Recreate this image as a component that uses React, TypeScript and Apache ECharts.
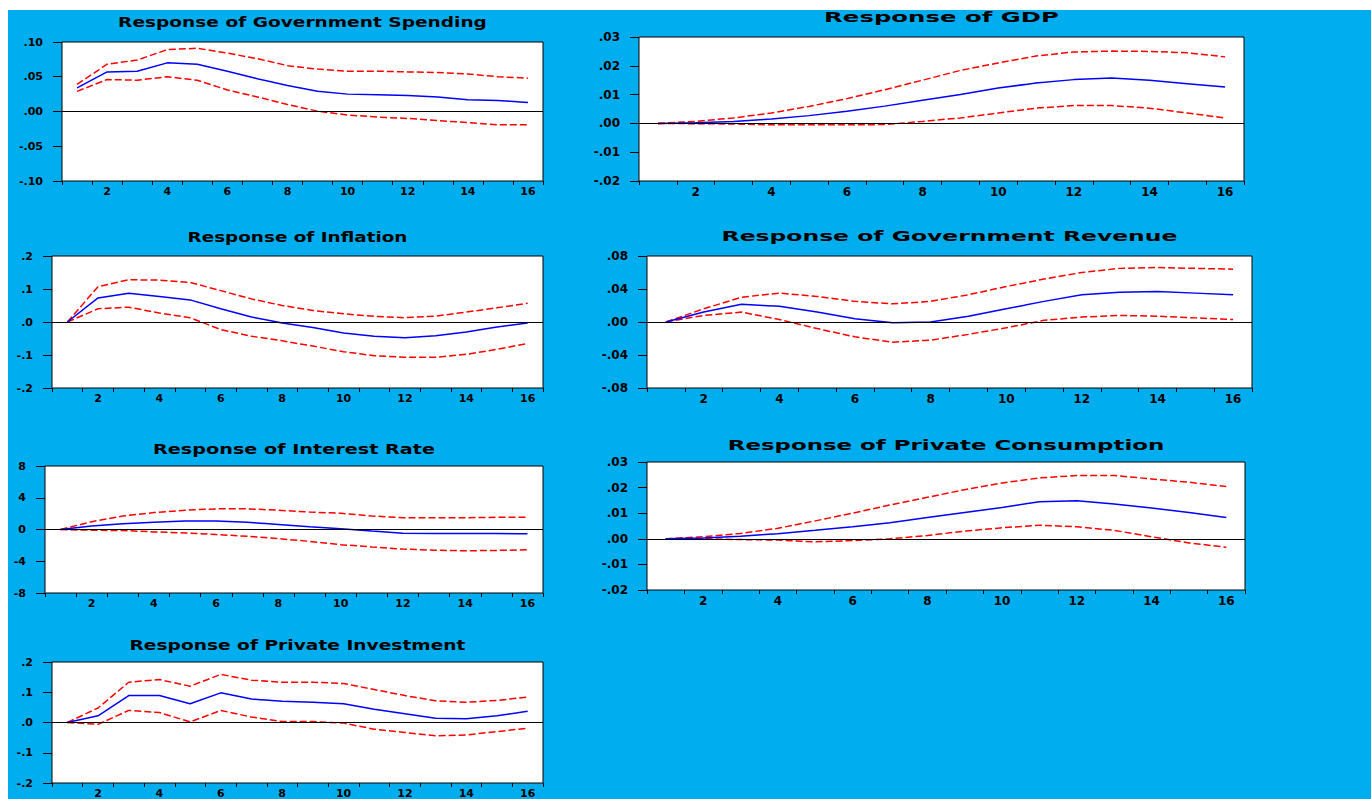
import React, { useEffect, useRef } from "react";
import * as echarts from "echarts";

// Impulse-response horizon (periods after the shock)
const periods = ["1", "2", "3", "4", "5", "6", "7", "8", "9", "10", "11", "12", "13", "14", "15", "16"];

// Response of Government Spending: point estimate and ±2 S.E. bands
const govSpendingResp = [0.034, 0.057, 0.058, 0.07, 0.068, 0.058, 0.047, 0.0375, 0.029, 0.025, 0.024, 0.023, 0.021, 0.017, 0.016, 0.013];
const govSpendingUpper = [0.039, 0.068, 0.074, 0.089, 0.091, 0.084, 0.076, 0.066, 0.061, 0.058, 0.058, 0.057, 0.056, 0.054, 0.05, 0.048];
const govSpendingLower = [0.029, 0.046, 0.045, 0.05, 0.045, 0.031, 0.021, 0.01, 0.0005, -0.005, -0.008, -0.01, -0.013, -0.016, -0.019, -0.019];

// Response of GDP
const gdpResp = [0, 0.0002, 0.0007, 0.0015, 0.0027, 0.0042, 0.006, 0.008, 0.01, 0.0123, 0.014, 0.0152, 0.0158, 0.015, 0.0138, 0.0126];
const gdpUpper = [0, 0.0007, 0.0019, 0.0036, 0.0059, 0.0086, 0.0117, 0.015, 0.0184, 0.021, 0.0234, 0.0248, 0.0251, 0.025, 0.0245, 0.0231];
const gdpLower = [0, -0.0001, -0.0002, -0.0005, -0.0005, -0.0005, -0.0004, 0.0007, 0.0019, 0.0036, 0.0053, 0.0062, 0.0062, 0.0053, 0.0036, 0.0019];

// Response of Inflation
const inflationResp = [0, 0.073, 0.087, 0.077, 0.067, 0.04, 0.015, -0.003, -0.017, -0.033, -0.043, -0.048, -0.042, -0.03, -0.015, -0.003];
const inflationUpper = [0, 0.107, 0.128, 0.127, 0.12, 0.095, 0.07, 0.05, 0.035, 0.025, 0.017, 0.013, 0.018, 0.03, 0.043, 0.057];
const inflationLower = [0, 0.04, 0.045, 0.027, 0.013, -0.023, -0.043, -0.057, -0.073, -0.09, -0.102, -0.107, -0.107, -0.098, -0.083, -0.065];

// Response of Government Revenue
const revenueResp = [0, 0.012, 0.0216, 0.019, 0.012, 0.004, -0.001, 0, 0.007, 0.016, 0.025, 0.033, 0.036, 0.037, 0.035, 0.033];
const revenueUpper = [0, 0.016, 0.03, 0.035, 0.031, 0.025, 0.022, 0.025, 0.033, 0.043, 0.052, 0.06, 0.065, 0.066, 0.065, 0.064];
const revenueLower = [0, 0.008, 0.012, 0.003, -0.008, -0.018, -0.0245, -0.022, -0.015, -0.007, 0.002, 0.006, 0.008, 0.007, 0.005, 0.003];

// Response of Interest Rate
const interestResp = [0, 0.43, 0.72, 0.9, 1.06, 1.06, 0.9, 0.64, 0.34, 0.09, -0.2, -0.47, -0.51, -0.51, -0.51, -0.55];
const interestUpper = [0, 0.98, 1.7, 2.13, 2.43, 2.6, 2.6, 2.43, 2.2, 2.04, 1.7, 1.49, 1.49, 1.49, 1.53, 1.53];
const interestLower = [0, -0.09, -0.13, -0.3, -0.43, -0.64, -0.85, -1.15, -1.49, -1.91, -2.2, -2.47, -2.6, -2.68, -2.64, -2.55];

// Response of Private Consumption
const consumptionResp = [0, 0.0003, 0.001, 0.002, 0.0033, 0.0047, 0.0063, 0.0083, 0.0103, 0.0122, 0.0145, 0.0149, 0.0136, 0.012, 0.0103, 0.0083];
const consumptionUpper = [0, 0.0008, 0.0021, 0.0041, 0.007, 0.01, 0.0132, 0.0162, 0.0192, 0.0218, 0.0238, 0.0247, 0.0247, 0.0234, 0.0221, 0.0204];
const consumptionLower = [0, 0, -0.0003, -0.0005, -0.0012, -0.0007, 0, 0.0013, 0.003, 0.0043, 0.0053, 0.0047, 0.0033, 0.0008, -0.0016, -0.0033];

// Response of Private Investment
const investmentResp = [0, 0.022, 0.089, 0.089, 0.062, 0.098, 0.078, 0.07, 0.067, 0.062, 0.044, 0.029, 0.014, 0.012, 0.022, 0.037];
const investmentUpper = [0, 0.048, 0.133, 0.142, 0.12, 0.159, 0.14, 0.133, 0.133, 0.129, 0.109, 0.089, 0.072, 0.067, 0.073, 0.084];
const investmentLower = [0, -0.006, 0.04, 0.033, 0.002, 0.04, 0.018, 0.003, 0.003, -0.002, -0.022, -0.033, -0.044, -0.041, -0.03, -0.019];

const BG = "#00AEEF";
const TITLE_FONT = 'bold 14px "DejaVu Sans"';
const LABEL_FAMILY = '"DejaVu Sans"';

type Panel = {
  title: string;
  resp: number[];
  upper: number[];
  lower: number[];
  min: number;
  max: number;
  interval: number;
  decimals: number;
  rect: { left: number; top: number; width: number; height: number };
  titleY: number;
  titleWidth: number;
  labelSize: number;
};

const panels: Panel[] = [
  {
    title: "Response of Government Spending",
    resp: govSpendingResp, upper: govSpendingUpper, lower: govSpendingLower,
    min: -0.1, max: 0.1, interval: 0.05, decimals: 2,
    rect: { left: 54, top: 32, width: 481, height: 139 }, titleY: 12, titleWidth: 369, labelSize: 11,
  },
  {
    title: "Response of GDP",
    resp: gdpResp, upper: gdpUpper, lower: gdpLower,
    min: -0.02, max: 0.03, interval: 0.01, decimals: 2,
    rect: { left: 631, top: 27, width: 605, height: 144 }, titleY: 7, titleWidth: 235, labelSize: 12,
  },
  {
    title: "Response of Inflation",
    resp: inflationResp, upper: inflationUpper, lower: inflationLower,
    min: -0.2, max: 0.2, interval: 0.1, decimals: 1,
    rect: { left: 44, top: 246, width: 491, height: 132 }, titleY: 227, titleWidth: 220, labelSize: 11,
  },
  {
    title: "Response of Government Revenue",
    resp: revenueResp, upper: revenueUpper, lower: revenueLower,
    min: -0.08, max: 0.08, interval: 0.04, decimals: 2,
    rect: { left: 639, top: 246, width: 605, height: 132 }, titleY: 226, titleWidth: 456, labelSize: 12,
  },
  {
    title: "Response of Interest Rate",
    resp: interestResp, upper: interestUpper, lower: interestLower,
    min: -8, max: 8, interval: 4, decimals: 0,
    rect: { left: 37, top: 456, width: 498, height: 127 }, titleY: 439, titleWidth: 282, labelSize: 11,
  },
  {
    title: "Response of Private Consumption",
    resp: consumptionResp, upper: consumptionUpper, lower: consumptionLower,
    min: -0.02, max: 0.03, interval: 0.01, decimals: 2,
    rect: { left: 639, top: 452, width: 598, height: 128 }, titleY: 435, titleWidth: 437, labelSize: 12,
  },
  {
    title: "Response of Private Investment",
    resp: investmentResp, upper: investmentUpper, lower: investmentLower,
    min: -0.2, max: 0.2, interval: 0.1, decimals: 1,
    rect: { left: 44, top: 652, width: 491, height: 121 }, titleY: 635, titleWidth: 336, labelSize: 11,
  },
];

// EViews-style tick labels: no leading zero (".05", "-.10")
function tickFormatter(decimals: number) {
  return (v: number) => {
    const s = Math.abs(v).toFixed(decimals);
    const body = decimals > 0 && s.startsWith("0") ? s.slice(1) : s;
    return (v < -1e-9 ? "-" : "") + body;
  };
}

function measure(text: string): number {
  const ctx = document.createElement("canvas").getContext("2d");
  if (!ctx) return text.length * 9;
  ctx.font = TITLE_FONT;
  return ctx.measureText(text).width;
}

export default function App() {
  const ref = useRef<HTMLDivElement>(null);

  useEffect(() => {
    if (!ref.current) return;
    const chart = echarts.init(ref.current, undefined, { renderer: "svg" });

    const grid = panels.map((p) => ({
      ...p.rect,
      show: true,
      backgroundColor: "#ffffff",
      borderColor: "#000000",
      borderWidth: 1,
      containLabel: false,
    }));

    const xAxis = panels.map((p, i) => ({
      gridIndex: i,
      type: "category",
      data: periods,
      boundaryGap: true,
      axisLine: { show: false, onZero: false },
      axisTick: { show: true, interval: 0, length: 4, lineStyle: { color: "#000", width: 1 } },
      axisLabel: {
        interval: (idx: number) => idx % 2 === 1,
        margin: 5,
        color: "#000",
        fontSize: p.labelSize,
        fontFamily: LABEL_FAMILY,
        fontWeight: "bold",
      },
      splitLine: { show: false },
    }));

    const yAxis = panels.map((p, i) => ({
      gridIndex: i,
      type: "value",
      min: p.min,
      max: p.max,
      interval: p.interval,
      axisLine: { show: false },
      axisTick: { show: true, length: 9, lineStyle: { color: "#000", width: 1 } },
      axisLabel: {
        margin: 19,
        color: "#000",
        fontSize: p.labelSize,
        fontFamily: LABEL_FAMILY,
        fontWeight: "bold",
        formatter: tickFormatter(p.decimals),
      },
      splitLine: { show: false },
    }));

    const series: any[] = [];
    panels.forEach((p, i) => {
      const band = (data: number[], name: string) => ({
        name,
        type: "line",
        xAxisIndex: i,
        yAxisIndex: i,
        data,
        symbol: "none",
        silent: true,
        lineStyle: { color: "#ff0000", width: 1.5, type: [7, 3] },
      });
      series.push(band(p.upper, p.title + " +2SE"));
      series.push(band(p.lower, p.title + " -2SE"));
      series.push({
        name: p.title,
        type: "line",
        xAxisIndex: i,
        yAxisIndex: i,
        data: p.resp,
        symbol: "none",
        silent: true,
        z: 3,
        lineStyle: { color: "#0000ff", width: 1.5 },
        markLine: {
          silent: true,
          symbol: "none",
          label: { show: false },
          lineStyle: { color: "#000", width: 1, type: "solid" },
          data: [{ yAxis: 0 }],
        },
      });
    });

    const graphic = panels.map((p) => ({
      type: "text",
      x: p.rect.left + p.rect.width / 2,
      y: p.titleY,
      scaleX: p.titleWidth / measure(p.title),
      silent: true,
      style: {
        text: p.title,
        fill: "#000",
        font: TITLE_FONT,
        textAlign: "center",
        textVerticalAlign: "middle",
        align: "center",
        verticalAlign: "middle",
      },
    }));

    chart.setOption({
      animation: false,
      backgroundColor: BG,
      grid,
      xAxis,
      yAxis,
      series,
      graphic,
    });

    return () => chart.dispose();
  }, []);

  return (
    <div
      ref={ref}
      style={{ position: "fixed", left: 8, top: 10, right: 0, bottom: 0, background: BG }}
    />
  );
}
